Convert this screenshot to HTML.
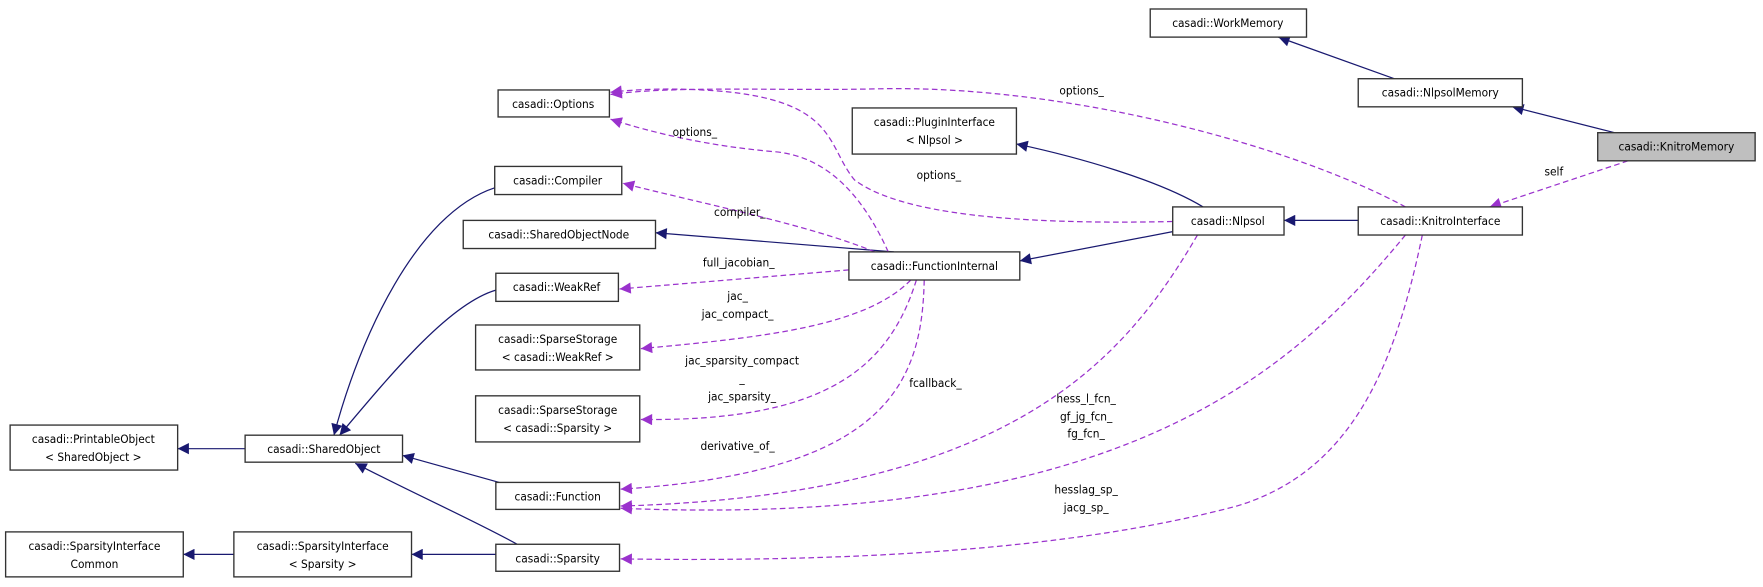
<!DOCTYPE html>
<html><head><meta charset="utf-8"><style>
html,body{margin:0;padding:0;background:#fff;}
svg{display:block;}
text{font-family:"DejaVu Sans Condensed","Liberation Sans",sans-serif;font-size:10.5px;fill:#000;}
.n{fill:#fff;stroke:#333;stroke-width:1.2;}
.s{fill:none;stroke:#191970;stroke-width:1.1;}
.d{fill:none;stroke:#9a32cd;stroke-width:1.1;stroke-dasharray:5,3;}
</style></head><body>
<svg width="1763" height="587" viewBox="0 0 1568 522" preserveAspectRatio="none">
<defs>
<marker id="ab" viewBox="0 0 10 10" refX="10" refY="5" markerWidth="11" markerHeight="10" orient="auto" markerUnits="userSpaceOnUse"><path d="M0,0 L10,5 L0,10z" fill="#191970"/></marker>
<marker id="ap" viewBox="0 0 10 10" refX="10" refY="5" markerWidth="11" markerHeight="10" orient="auto" markerUnits="userSpaceOnUse"><path d="M0,0 L10,5 L0,10z" fill="#9a32cd"/></marker>
</defs>
<path class="s" marker-end="url(#ab)" d="M1240,70 L1137,33"/>
<path class="s" marker-end="url(#ab)" d="M1436,118 L1345,95"/>
<path class="s" marker-end="url(#ab)" d="M1208,196 L1142,196"/>
<path class="s" marker-end="url(#ab)" d="M1070,184 C1030,160 960,140 904,128"/>
<path class="s" marker-end="url(#ab)" d="M1043,206 L907,232"/>
<path class="s" marker-end="url(#ab)" d="M795,224 L583,207"/>
<path class="s" marker-end="url(#ab)" d="M440,167 C370,190 320,300 297,387"/>
<path class="s" marker-end="url(#ab)" d="M441,258 C400,270 350,330 302,387"/>
<path class="s" marker-end="url(#ab)" d="M444,429 L358,405"/>
<path class="s" marker-end="url(#ab)" d="M460,484 C420,462 370,440 316,412"/>
<path class="s" marker-end="url(#ab)" d="M218,399 L158,399"/>
<path class="s" marker-end="url(#ab)" d="M208,493 L163,493"/>
<path class="s" marker-end="url(#ab)" d="M441,493 L366,493"/>
<path class="d" marker-end="url(#ap)" d="M1448,143 L1325,184"/>
<path class="d" marker-end="url(#ap)" d="M1250,184 C1150,130 950,75 780,79 C700,81 600,76 543,84"/>
<path class="d" marker-end="url(#ap)" d="M1043,197 C900,200 800,190 760,160 C735,130 745,90 640,81 C600,78 570,79 543,82"/>
<path class="d" marker-end="url(#ap)" d="M790,224 C770,180 740,140 690,135 C630,130 580,118 543,106"/>
<path class="d" marker-end="url(#ap)" d="M778,224 C720,200 620,180 554,163"/>
<path class="d" marker-end="url(#ap)" d="M755,240 L551,257"/>
<path class="d" marker-end="url(#ap)" d="M810,249 C770,290 680,300 570,310"/>
<path class="d" marker-end="url(#ap)" d="M815,249 C790,330 730,375 570,373"/>
<path class="d" marker-end="url(#ap)" d="M822,249 C820,340 790,420 552,435"/>
<path class="d" marker-end="url(#ap)" d="M1065,209 C1000,320 900,440 552,450"/>
<path class="d" marker-end="url(#ap)" d="M1250,209 C1150,330 1000,470 552,452"/>
<path class="d" marker-end="url(#ap)" d="M1265,209 C1240,330 1200,420 1100,450 C950,490 750,500 552,497"/>
<text x="1382" y="156" text-anchor="middle">self</text>
<text x="962" y="84" text-anchor="middle">options_</text>
<text x="835" y="159" text-anchor="middle">options_</text>
<text x="618" y="121" text-anchor="middle">options_</text>
<text x="658" y="192" text-anchor="middle">compiler_</text>
<text x="657" y="237" text-anchor="middle">full_jacobian_</text>
<text x="656" y="267" text-anchor="middle">jac_</text>
<text x="656" y="283" text-anchor="middle">jac_compact_</text>
<text x="660" y="324" text-anchor="middle">jac_sparsity_compact</text>
<text x="660" y="340" text-anchor="middle">_</text>
<text x="660" y="356" text-anchor="middle">jac_sparsity_</text>
<text x="656" y="400" text-anchor="middle">derivative_of_</text>
<text x="832" y="344" text-anchor="middle">fcallback_</text>
<text x="966" y="358" text-anchor="middle">hess_l_fcn_</text>
<text x="966" y="374" text-anchor="middle">gf_jg_fcn_</text>
<text x="966" y="389" text-anchor="middle">fg_fcn_</text>
<text x="966" y="439" text-anchor="middle">hesslag_sp_</text>
<text x="966" y="455" text-anchor="middle">jacg_sp_</text>
<rect class="n" x="1023" y="8" width="139" height="25"/><text x="1092" y="24" text-anchor="middle">casadi::WorkMemory</text>
<rect class="n" x="1208" y="70" width="146" height="25"/><text x="1281" y="86" text-anchor="middle">casadi::NlpsolMemory</text>
<rect x="1421" y="118" width="140" height="25" fill="#bfbfbf" stroke="#333" stroke-width="1.2"/><text x="1491" y="134" text-anchor="middle">casadi::KnitroMemory</text>
<rect class="n" x="443" y="80" width="99" height="24"/><text x="492" y="96" text-anchor="middle">casadi::Options</text>
<rect class="n" x="758" y="96" width="146" height="41"/><text x="831" y="112" text-anchor="middle">casadi::PluginInterface</text><text x="831" y="128" text-anchor="middle">&lt; Nlpsol &gt;</text>
<rect class="n" x="440" y="148" width="113" height="25"/><text x="496" y="164" text-anchor="middle">casadi::Compiler</text>
<rect class="n" x="412" y="196" width="171" height="25"/><text x="497" y="212" text-anchor="middle">casadi::SharedObjectNode</text>
<rect class="n" x="1043" y="184" width="99" height="25"/><text x="1092" y="200" text-anchor="middle">casadi::Nlpsol</text>
<rect class="n" x="1208" y="184" width="146" height="25"/><text x="1281" y="200" text-anchor="middle">casadi::KnitroInterface</text>
<rect class="n" x="755" y="224" width="152" height="25"/><text x="831" y="240" text-anchor="middle">casadi::FunctionInternal</text>
<rect class="n" x="441" y="243" width="109" height="25"/><text x="495" y="259" text-anchor="middle">casadi::WeakRef</text>
<rect class="n" x="423" y="289" width="146" height="40"/><text x="496" y="305" text-anchor="middle">casadi::SparseStorage</text><text x="496" y="321" text-anchor="middle">&lt; casadi::WeakRef &gt;</text>
<rect class="n" x="423" y="352" width="146" height="41"/><text x="496" y="368" text-anchor="middle">casadi::SparseStorage</text><text x="496" y="384" text-anchor="middle">&lt; casadi::Sparsity &gt;</text>
<rect class="n" x="9" y="378" width="149" height="40"/><text x="83" y="394" text-anchor="middle">casadi::PrintableObject</text><text x="83" y="410" text-anchor="middle">&lt; SharedObject &gt;</text>
<rect class="n" x="218" y="387" width="140" height="24"/><text x="288" y="403" text-anchor="middle">casadi::SharedObject</text>
<rect class="n" x="441" y="429" width="110" height="24"/><text x="496" y="445" text-anchor="middle">casadi::Function</text>
<rect class="n" x="5" y="473" width="158" height="40"/><text x="84" y="489" text-anchor="middle">casadi::SparsityInterface</text><text x="84" y="505" text-anchor="middle">Common</text>
<rect class="n" x="208" y="473" width="158" height="40"/><text x="287" y="489" text-anchor="middle">casadi::SparsityInterface</text><text x="287" y="505" text-anchor="middle">&lt; Sparsity &gt;</text>
<rect class="n" x="441" y="484" width="110" height="24"/><text x="496" y="500" text-anchor="middle">casadi::Sparsity</text>
</svg>
</body></html>
